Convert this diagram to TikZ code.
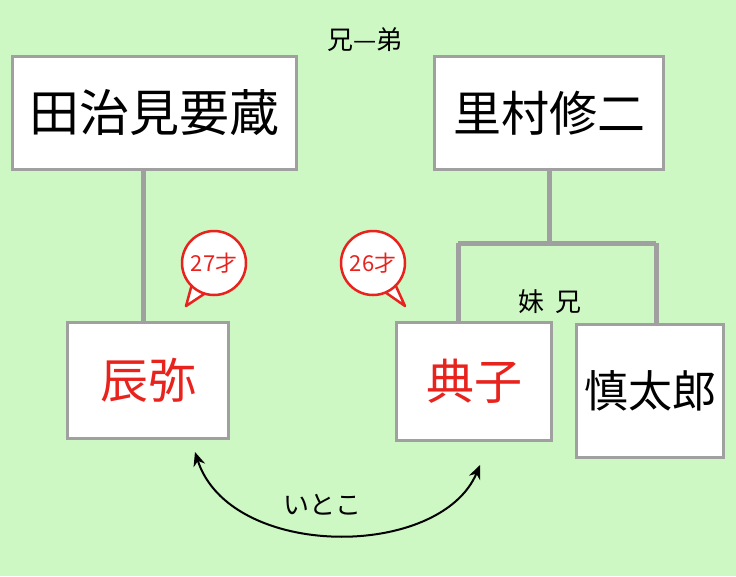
\documentclass[tikz,border=0pt]{standalone}
\usepackage{fontspec}
\setmainfont{Noto Sans CJK JP}
\usetikzlibrary{arrows.meta}
\definecolor{bg}{HTML}{CDF7C3}
\definecolor{ln}{HTML}{A0A0A0}
\definecolor{rd}{HTML}{E8231E}
\begin{document}
\begin{tikzpicture}[x=1pt,y=-1pt,
 box/.style={draw=ln,line width=3pt,fill=white,inner sep=0pt},
 conn/.style={draw=ln,line width=5pt},
 bub/.style={circle,draw=rd,text=rd,line width=2.5pt,fill=white,minimum size=64pt,inner sep=0pt,font=\fontsize{22}{22}\selectfont},
 lbl/.style={font=\fontsize{26}{26}\selectfont}]
\fill[bg] (0,0) rectangle (736,576);
\useasboundingbox (0,0) rectangle (736,576);
\node[box,minimum width=284pt,minimum height=113pt,font=\fontsize{50}{50}\selectfont] (tajimi) at (154,113) {田治見要蔵};
\node[box,minimum width=229pt,minimum height=113pt,font=\fontsize{48}{48}\selectfont] (satomura) at (549,113) {里村修二};
\node[box,minimum width=161pt,minimum height=116pt,font=\fontsize{48}{48}\selectfont,text=rd] (tatsuya) at (148,380) {辰弥};
\node[box,minimum width=155pt,minimum height=118pt,font=\fontsize{48}{48}\selectfont,text=rd] (noriko) at (474,381) {典子};
\node[box,minimum width=147pt,minimum height=133pt,font=\fontsize{44}{44}\selectfont] (shintaro) at (650,391) {慎太郎};
\coordinate (j) at (549,243);
\coordinate (jl) at (458,243);
\coordinate (jr) at (656,243);
\draw[conn] (tajimi.south -| 143,0) -- (143,322);
\draw[conn] (satomura.south) -- (j);
\draw[conn] (jl) -- (jr);
\draw[conn] (jl) -- (458,322);
\draw[conn] (jr) -- (656,325);
\node[lbl] (kyodai) at (365,40) {兄—弟};
\node[lbl] (imoani) at (550,302) {妹\ \ 兄};
\draw[rd,line width=2.5pt,fill=white,line join=round] (192,284) -- (186,306) -- (210,290);
\node[bub] (b1) at (214,263) {27才};
\draw[rd,line width=2.5pt,fill=white,line join=round] (395,284) -- (405,306) -- (382,290);
\node[bub] (b2) at (373,263) {26才};
\draw[line width=2pt,{Stealth[length=14pt,width=12pt]}-{Stealth[length=14pt,width=12pt]}] (195,452) .. controls (230,560) and (440,560) .. (480,465);
\node[lbl] (itoko) at (322,505) {いとこ};
\end{tikzpicture}
\end{document}
